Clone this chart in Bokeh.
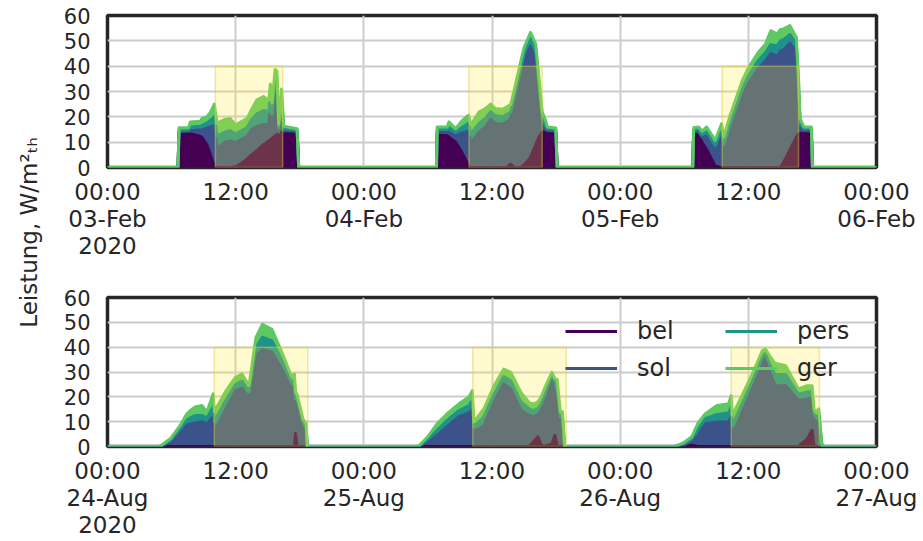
import math
from bokeh.plotting import figure
from bokeh.layouts import column, row
from bokeh.models import ColumnDataSource, FixedTicker, Legend, LegendItem, Label
from bokeh.embed import file_html
from bokeh.resources import INLINE

# ---------------- data ----------------
series_names = ["bel", "sol", "pers", "ger"]
series_colors = ["#440154", "#3b528b", "#21918c", "#5ec962"]
occ_color = "#fde725"

tick_hours = [0, 12, 24, 36, 48, 60, 72]
feb_tick_labels = ["00:00\n03-Feb\n2020", "12:00", "00:00\n04-Feb", "12:00",
                   "00:00\n05-Feb", "12:00", "00:00\n06-Feb"]
aug_tick_labels = ["00:00\n24-Aug\n2020", "12:00", "00:00\n25-Aug", "12:00",
                   "00:00\n26-Aug", "12:00", "00:00\n27-Aug"]
y_ticks = [0, 10, 20, 30, 40, 50, 60]
y_label = "Leistung, W/m²ₜₕ"

# hours since 03-Feb-2020 00:00
feb_hours = [0, 6.6, 6.7, 7.6, 7.75, 8.7, 8.85, 9.3, 9.6, 10.0, 10.25, 11.0, 11.5, 12.0, 12.5,
             13.06, 13.5, 14.0, 14.6, 15.1, 15.25, 15.4, 15.7, 15.87, 16.03, 16.3, 16.5, 17.75, 17.9,
             30.8, 30.87, 31.8, 31.97, 32.6, 33.1, 33.5, 33.8, 34.0, 34.2, 34.8, 35.4, 35.87, 36.3,
             36.97, 37.4, 37.75, 38.1, 38.7, 39.0, 39.6, 40.1, 40.4, 40.7, 41.0, 41.2, 41.97, 42.1,
             54.8, 54.88, 55.35, 55.66, 56.1, 56.9, 57.5, 57.7, 58.2, 59.4, 60.0, 60.9, 61.6, 62.1,
             62.7, 63.0, 63.3, 63.9, 64.5, 64.7, 64.85, 65.2, 65.9, 66.0, 72]
feb_bel = [0, 0, 13.5, 13.5, 13.3, 12.3, 11.8, 9, 5.5, 0.5, 0, 0, 0, 0.3, 1.5,
           3.3, 5, 6.7, 9, 10.5, 11, 11.5, 12.5, 13, 13.5, 14, 14, 14, 0,
           0, 12.7, 12.5, 12, 10, 6.5, 3.3, 0.5, 0, 0, 0, 0, 0, 0,
           0, 0, 1.3, 0, 0, 1, 4, 9, 12, 14, 14, 14, 14, 0,
           0, 14, 12.5, 10, 7, 0.5, 0, 0, 0, 0, 0, 0, 0, 0,
           0, 0, 2, 7, 12, 13.3, 13.5, 13.5, 13.5, 0, 0]
feb_sol = [0, 0, 0.7, 0.8, 1.2, 2.5, 3, 6.5, 10.5, 16, 7.5, 10, 10.5, 9.5, 9.5,
           9, 10, 9.5, 8, 7, 14, 5, 19, 18, 0.5, 10, 0.5, 0.3, 0,
           0, 1.5, 1.5, 2, 2.5, 7, 10.5, 14, 9.5, 10.7, 14, 16, 19, 17.5,
           17, 18, 18, 25, 36, 41, 44, 33, 17, 2.7, 1, 0.5, 0.4, 0,
           0, 0.5, 1.5, 2, 5.5, 6.5, 12.5, 6.5, 13, 27.5, 33, 39, 42, 45,
           44, 46, 44.5, 42, 33.5, 16, 2, 1, 1, 0, 0]
feb_pers = [0, 0, 0.6, 0.6, 1.5, 1.5, 1.8, 2, 2.5, 3.5, 5, 4, 4, 3.5, 3.5,
            3.5, 4, 5, 5.5, 4.5, 4, 4.5, 4, 3.5, 1.5, 3.5, 0.8, 0.5, 0,
            0, 0.8, 1, 1.8, 1.3, 2, 2.8, 3, 3.5, 3.5, 3.5, 3.5, 3, 3,
            3, 3, 2.5, 3, 3, 2.8, 2.8, 3.5, 3, 2.5, 1.5, 0.7, 0.6, 0,
            0, 0.5, 1, 1, 1.5, 1.7, 2.3, 2.5, 3, 3, 3, 3, 3.3, 3.5,
            4, 4, 4, 3.5, 3, 3, 1.8, 0.8, 0.8, 0, 0]
feb_ger = [0, 0, 0.9, 0.8, 2.0, 2, 2.8, 2.5, 3, 5, 5, 5, 4.8, 3.5, 3.5,
           3.5, 4, 5.5, 5.5, 4.5, 4, 4.5, 3.2, 3.5, 1.5, 3.5, 1, 0.5, 0,
           0, 1, 1, 2.2, 1.5, 2.5, 3, 3.2, 4, 3.8, 4.5, 3.8, 3, 2.8,
           3, 3, 3, 3, 3, 2.5, 2.5, 3.2, 3.3, 2.8, 2.2, 0.8, 0.6, 0,
           0, 0.7, 1, 1.3, 2, 2, 2.5, 3, 3.3, 3.5, 3.3, 3.3, 3.4, 5.5,
           4.7, 4.5, 4.2, 3.5, 2.8, 3, 2, 0.7, 0.7, 0, 0]
feb_occ_start = [10.1, 33.85, 57.55]
feb_occ_end = [16.4, 40.7, 64.7]
feb_occ_level = [40, 40, 40]

# hours since 24-Aug-2020 00:00
aug_hours = [0, 4.9, 5.9, 6.8, 7.4, 7.75, 8.2, 8.84, 9.3, 9.9, 10.0, 11.1, 12.0, 12.6, 13.25,
             13.9, 14.5, 15.4, 16.4, 17.2, 17.5, 17.6, 17.75, 18.3, 18.6, 18.7,
             29.1, 30.0, 30.87, 31.8, 32.9, 33.84, 34.15, 34.3, 35.25, 36.2, 37.1, 37.75,
             38.7, 39.5, 39.9, 40.3, 40.6, 40.9, 41.6, 41.9, 42.1, 42.4, 42.6, 42.8,
             53.1, 54.0, 54.7, 55.3, 55.97, 57.06, 58.16, 58.4, 58.5, 59.4, 60.3, 61.3,
             61.6, 62.0, 62.5, 63.5, 64.0, 64.7, 65.5, 65.97, 66.15, 66.3, 66.6, 66.9, 72]
aug_bel = [0, 0, 0, 0, 0, 0, 0, 0, 0, 0, 0, 0, 0, 0, 0,
           0, 0, 0, 0, 0, 0, 5.2, 0, 0, 0, 0,
           0, 0, 0, 0, 0, 0, 0, 0, 0, 0, 0, 0,
           0, 0, 2, 3.9, 0.5, 0, 1, 4.5, 0, 0, 0, 0,
           0, 0, 0.5, 0, 0, 0, 0, 0, 0, 0, 0, 0,
           0, 0, 0, 0, 0, 0, 3, 6.5, 0, 0, 0, 0, 0]
aug_sol = [0, 0, 1.8, 5.5, 8.5, 9, 9.5, 10, 9, 12, 6, 15.2, 22.5, 23.5, 19.5,
           36.5, 39, 38, 30.5, 23.5, 24, 12, 17, 8, 6, 0,
           0, 2, 4.5, 8, 11.9, 13.5, 15, 5.9, 8.5, 17.9, 25.2, 23.2,
           14.5, 12.5, 10, 9, 14, 17.9, 26.9, 20, 20, 9.9, 9, 0,
           0, 0.8, 1.5, 4.5, 9.2, 9.9, 10, 12, 4.5, 13.5, 22.5, 33,
           35.9, 30, 24.5, 24.5, 22, 18.5, 16, 13, 11, 9.9, 10, 0, 0]
aug_pers = [0, 0, 0.7, 1.5, 2, 2.5, 3, 2.5, 2.5, 4, 4, 3.5, 2.5, 2.8, 2.5,
            3.5, 5, 4.5, 3.5, 2.5, 2.7, 2, 2, 1.5, 1.5, 0,
            0, 1, 2, 2.5, 2.5, 3, 3.5, 2, 3.5, 3.2, 3, 3.3,
            3.5, 2.5, 2.5, 2.5, 2.5, 2.5, 1.2, 1.5, 3, 2, 2.5, 0,
            0, 0.4, 0.9, 2.5, 2, 3, 3.5, 4, 4, 3.5, 3, 3,
            1.5, 3, 4.5, 4.5, 3.5, 2.5, 3, 2.5, 2, 2, 2.5, 0, 0]
aug_ger = [0, 0, 0.7, 1.5, 2.5, 3, 3.4, 4, 2.4, 5.2, 4, 3.8, 2.9, 2.9, 2.5,
           3.9, 5.2, 4.7, 3.2, 2.4, 2.5, 2.5, 2, 1.5, 1.8, 0,
           0, 1, 2.7, 2.7, 2.8, 3.4, 4, 2, 3.2, 3.4, 3, 3.4,
           3.9, 2.5, 2.7, 2.6, 3, 2.8, 0.8, 1.2, 4, 2, 2.5, 0,
           0, 0.5, 1, 2.5, 2, 3.6, 3.7, 4.5, 4, 3.5, 3, 2.5,
           1.8, 3.5, 4.5, 3.5, 3, 2.2, 2.5, 2.5, 2, 2, 2.7, 0, 0]
aug_occ_start = [10.0, 34.2, 58.4]
aug_occ_end = [18.75, 42.95, 66.65]
aug_occ_level = [40, 40, 40]

# ---------------- style ----------------
FONT = "DejaVu Sans"
TXT = "#262626"
W_MAIN = 863


def panel(hours, bel, sol, pers, ger, occ_s, occ_e, occ_top, labels, height, b_top, b_bottom):
    src = ColumnDataSource(dict(hours=hours, bel=bel, sol=sol, pers=pers, ger=ger))
    occ = ColumnDataSource(dict(left=occ_s, right=occ_e, top=occ_top, bottom=[0] * len(occ_s)))
    p = figure(width=W_MAIN, height=height, x_range=(0, 72), y_range=(0, 60),
               output_backend="svg", toolbar_location=None,
               min_border_left=42, min_border_right=47,
               min_border_top=b_top, min_border_bottom=b_bottom)
    p.varea_stack(series_names, x="hours", color=series_colors, source=src)
    lines = p.vline_stack(series_names, x="hours", color=series_colors, line_width=3,
                          line_join="round", source=src)
    p.quad(left="left", right="right", top="top", bottom="bottom", source=occ,
           fill_color=occ_color, fill_alpha=0.22, line_color="#d8d040", line_alpha=0.45,
           line_width=1.5)
    p.xaxis.ticker = FixedTicker(ticks=tick_hours)
    p.xaxis.major_label_overrides = dict(zip(tick_hours, labels))
    p.yaxis.ticker = FixedTicker(ticks=y_ticks)
    for ax in p.axis:
        ax.axis_line_color = None
        ax.major_tick_line_color = None
        ax.minor_tick_line_color = None
        ax.major_label_text_font = FONT
        ax.major_label_text_color = TXT
    p.xaxis.major_label_text_font_size = "23px"
    p.xaxis.major_label_text_line_height = 1.05
    p.xaxis.major_label_standoff = 5
    p.yaxis.major_label_text_font_size = "21px"
    p.yaxis.major_label_standoff = 11
    p.grid.grid_line_color = "#cccccc"
    p.grid.grid_line_width = 2
    p.outline_line_color = TXT
    p.outline_line_width = 3.5
    p.outline_line_alpha = 1
    p.background_fill_color = "white"
    p.border_fill_color = "white"
    return p, lines


p1, _ = panel(feb_hours, feb_bel, feb_sol, feb_pers, feb_ger,
              feb_occ_start, feb_occ_end, feb_occ_level, feb_tick_labels, 275, 15, 108)
p2, lines2 = panel(aug_hours, aug_bel, aug_sol, aug_pers, aug_ger,
                   aug_occ_start, aug_occ_end, aug_occ_level, aug_tick_labels, 266, 22, 92)

legend = Legend(items=[LegendItem(label=n, renderers=[r]) for n, r in zip(series_names, lines2)],
                ncols=2, location=(458, 64))
legend.border_line_color = None
legend.background_fill_alpha = 0
legend.label_text_font = FONT
legend.label_text_font_size = "24px"
legend.label_text_color = TXT
legend.glyph_width = 52
legend.glyph_height = 28
legend.label_standoff = 20
legend.label_width = 79
legend.spacing = 9
legend.padding = 0
legend.margin = 0
p2.add_layout(legend)

lab = figure(width=60, height=541, x_range=(0, 60), y_range=(0, 541),
             output_backend="svg", toolbar_location=None, min_border=0,
             x_axis_location=None, y_axis_location=None, outline_line_color=None)
lab.grid.visible = False
lab.add_layout(Label(x=28, y=309, text=y_label, angle=math.pi / 2,
                     text_align="center", text_baseline="middle",
                     text_font=FONT, text_font_size="23px", text_color=TXT))

layout = row(lab, column(p1, p2))
open("out.html", "w").write(file_html(layout, INLINE))
